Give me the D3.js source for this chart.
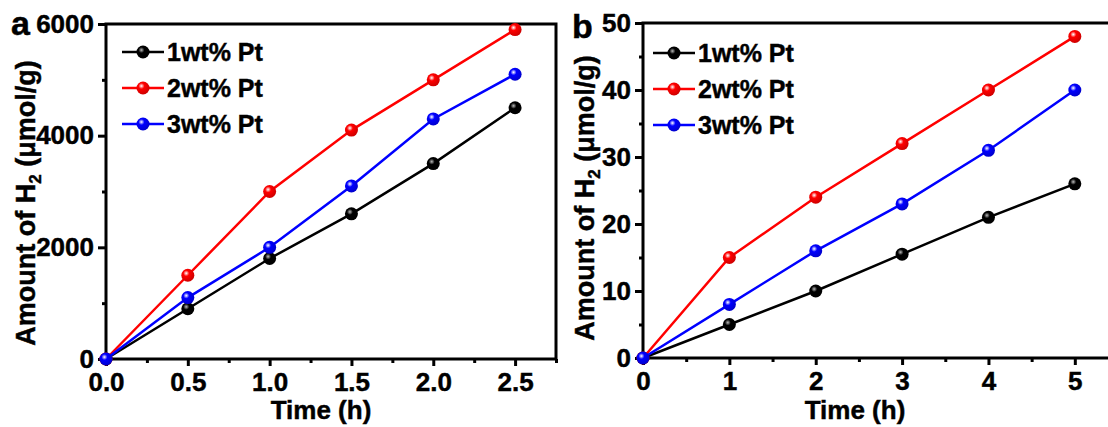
<!DOCTYPE html>
<html><head><meta charset="utf-8">
<script src="https://cdn.jsdelivr.net/npm/d3@7"></script>
<style>body{margin:0;background:#fff}svg{display:block}svg text{font-family:"Liberation Sans",Arial,sans-serif;font-weight:bold;fill:#000;stroke:#000;stroke-width:0.45px}</style>
</head><body><svg id="c" width="1108" height="427"></svg>
<script>
const seriesNames = ["1wt% Pt","2wt% Pt","3wt% Pt"];
const seriesColors = ["#000000","#ff0000","#0000ff"];
const timeA = [0,0.5,1,1.5,2,2.5];
const a1 = [0,900,1800,2600,3500,4500];
const a2 = [0,1500,3000,4100,5000,5900];
const a3 = [0,1100,2000,3100,4300,5100];
const timeB = [0,1,2,3,4,5];
const b1 = [0,5,10,15.5,21,26];
const b2 = [0,15,24,32,40,48];
const b3 = [0,8,16,23,31,40];
const xTicksA = [0,0.5,1,1.5,2,2.5];
const yTicksA = [0,2000,4000,6000];
const xTicksB = [0,1,2,3,4,5];
const yTicksB = [0,10,20,30,40,50];

const svg = d3.select("#c");
const defs = svg.append("defs");
seriesColors.forEach((c,i)=>{
  const g = defs.append("radialGradient").attr("id","g"+i).attr("cx","0.38").attr("cy","0.35").attr("r","0.65");
  g.append("stop").attr("offset","0").attr("stop-color", i===0?"#bbbbbb":"#ffffff").attr("stop-opacity",i===0?1:0.9);
  g.append("stop").attr("offset","0.35").attr("stop-color", c);
  g.append("stop").attr("offset","1").attr("stop-color", d3.color(c).darker(i===0?0:0.6));
});

function panel(o){
  const g = svg.append("g");
  const x = d3.scaleLinear().domain(o.xDom).range([o.left,o.right]);
  const y = d3.scaleLinear().domain(o.yDom).range([o.bottom,o.top]);
  g.append("rect").attr("x",o.left).attr("y",o.top).attr("width",o.right-o.left).attr("height",o.bottom-o.top)
    .attr("fill","none").attr("stroke","#000").attr("stroke-width",3);
  const xa = g.append("g").attr("transform",`translate(0,${o.bottom})`)
    .call(d3.axisBottom(x).tickValues(o.xTicks).tickSize(7).tickPadding(3).tickSizeOuter(0).tickFormat(o.xFmt));
  const xm = g.append("g").attr("transform",`translate(0,${o.bottom})`)
    .call(d3.axisBottom(x).tickValues(o.xMinor).tickSize(4).tickSizeOuter(0).tickFormat(""));
  const ya = g.append("g").attr("transform",`translate(${o.left},0)`)
    .call(d3.axisLeft(y).tickValues(o.yTicks).tickSize(8).tickPadding(4).tickSizeOuter(0).tickFormat(d3.format("d")));
  const ym = g.append("g").attr("transform",`translate(${o.left},0)`)
    .call(d3.axisLeft(y).tickValues(o.yMinor).tickSize(4).tickSizeOuter(0).tickFormat(""));
  [xa,xm,ya,ym].forEach(a=>{a.select(".domain").remove();a.selectAll("line").attr("stroke-width",3);});
  xa.selectAll("text").style("font-size","26px").attr("dy","0.86em");
  ya.selectAll("text").style("font-size","26px");
  g.append("text").attr("x",o.xTitleX).attr("y",419).attr("text-anchor","middle").style("font-size","26px").text("Time (h)");
  const yl = g.append("text").attr("transform",`translate(${o.yTitleX},${o.yTitleY}) rotate(-90)`).attr("text-anchor","middle").style("font-size","27px");
  yl.append("tspan").text("Amount of H");
  yl.append("tspan").style("font-size","17px").attr("dy",6).text("2");
  yl.append("tspan").attr("dy",-6).text(" (μmol/g)");
  g.append("text").attr("x",o.letterX).attr("y",o.letterY).style("font-size","34px").text(o.letter);
  const line = d3.line().x(d=>x(d[0])).y(d=>y(d[1]));
  o.series.forEach((s,i)=>{
    const pts = o.xs.map((t,k)=>[t,s[k]]);
    g.append("path").datum(pts).attr("d",line).attr("fill","none").attr("stroke",seriesColors[i]).attr("stroke-width",2.5);
    g.selectAll(null).data(pts).enter().append("circle").attr("cx",d=>x(d[0])).attr("cy",d=>y(d[1])).attr("r",6.5)
      .attr("fill",`url(#g${i})`);
  });
  seriesNames.forEach((n,i)=>{
    const ly = o.legY + i*36;
    g.append("line").attr("x1",o.legX).attr("x2",o.legX+42).attr("y1",ly).attr("y2",ly).attr("stroke",seriesColors[i]).attr("stroke-width",2.5);
    g.append("circle").attr("cx",o.legX+21).attr("cy",ly).attr("r",6.5).attr("fill",`url(#g${i})`);
    g.append("text").attr("x",o.legX+45).attr("y",ly+9).style("font-size","25px").text(n);
  });
}

panel({left:106,right:556,top:24,bottom:359,xDom:[0,2.75],yDom:[0,6000],
  xTicks:xTicksA,xMinor:[0.25,0.75,1.25,1.75,2.25,2.75],yTicks:yTicksA,yMinor:[1000,3000,5000],
  xFmt:d3.format(".1f"),xs:timeA,series:[a1,a2,a3],xTitleX:321,yTitleX:35,yTitleY:203,
  letter:"a",letterX:11,letterY:35,legX:122,legY:52});
panel({left:643,right:1118,top:23,bottom:358,xDom:[0,5.5],yDom:[0,50],
  xTicks:xTicksB,xMinor:[0.5,1.5,2.5,3.5,4.5],yTicks:yTicksB,yMinor:[5,15,25,35,45],
  xFmt:d3.format("d"),xs:timeB,series:[b1,b2,b3],xTitleX:855,yTitleX:594,yTitleY:198,
  letter:"b",letterX:572,letterY:38,legX:653,legY:53});
</script></body></html>
